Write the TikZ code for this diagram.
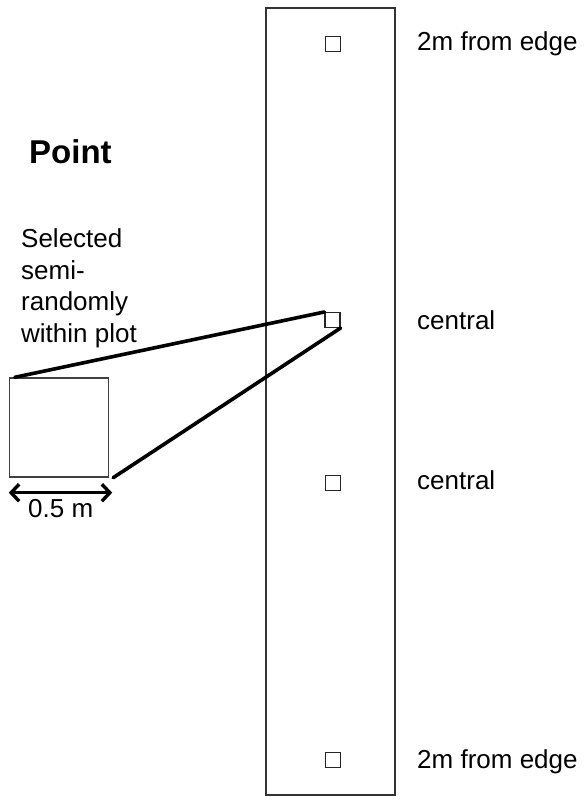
\documentclass[tikz,border=0pt]{standalone}
\usepackage{fontspec}
\setmainfont{Liberation Sans}
\usetikzlibrary{arrows.meta}
\begin{document}
\begin{tikzpicture}[x=1pt,y=-1pt,
  plotbox/.style={draw=black!80,line width=1.3pt,inner sep=0,minimum width=129pt,minimum height=787pt},
  smallsq/.style={draw=black!85,line width=1.1pt,inner sep=0,minimum size=15pt},
  magsq/.style={draw=black!75,line width=1.4pt,inner sep=0,minimum size=99pt},
  zoomline/.style={line width=3.6pt,line cap=round},
  dim/.style={line width=3.4pt,{Straight Barb[length=8pt,width=17pt]}-{Straight Barb[length=8pt,width=17pt]}},
  lbl/.style={inner sep=0,anchor=base west,font=\fontsize{26}{31.5}\selectfont}
]
\useasboundingbox (0,0) rectangle (585,797);
\node[plotbox] (plot) at (330.5,401.5) {};
\node[smallsq] (q1) at (333,44) {};
\node[smallsq] (q2) at (332.5,320) {};
\node[smallsq] (q3) at (333,483) {};
\node[smallsq] (q4) at (333,760) {};
\node[magsq] (mag) at (59,427.5) {};
\draw[zoomline] ([xshift=6pt]mag.north west) -- (q2.north west);
\draw[zoomline] ([xshift=4pt]mag.south east) -- (q2.south east);
\coordinate (a1) at ([yshift=-15pt]mag.south west);
\coordinate (a2) at ([xshift=3pt,yshift=-15pt]mag.south east);
\draw[dim] (a1) -- (a2);
\node[lbl] (len) at (28,517) {0.5 m};
\node[lbl] (e1) at (417,51) {2m from edge};
\node[lbl] (e2) at (417,768) {2m from edge};
\node[lbl] (c1) at (417,329) {central};
\node[lbl] (c2) at (417,489) {central};
\node[lbl,font=\fontsize{33}{38}\selectfont\bfseries] (title) at (29,163) {Point};
\node[lbl,align=left] (sel) at (21,342) {Selected\\semi-\\randomly\\within plot};
\end{tikzpicture}
\end{document}
